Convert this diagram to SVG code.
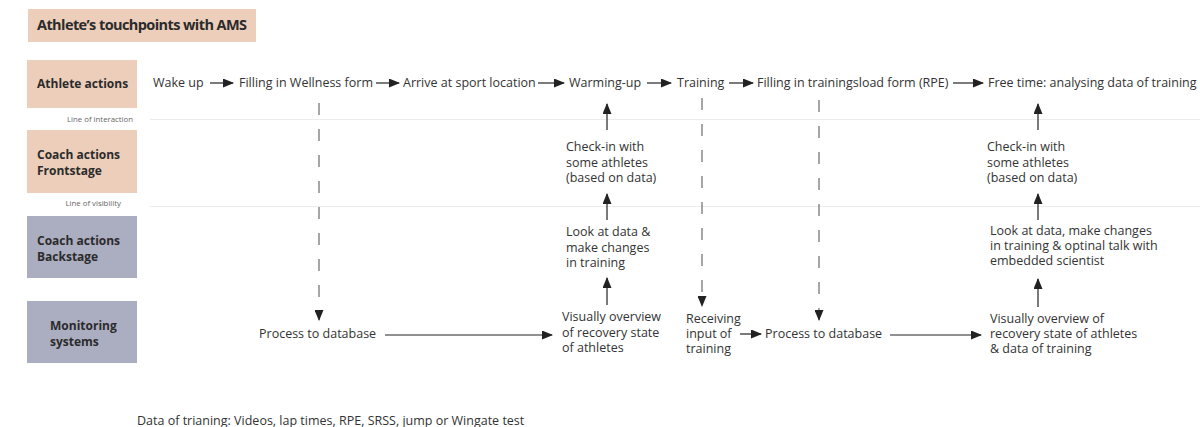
<svg xmlns="http://www.w3.org/2000/svg" width="1200" height="427" viewBox="0 0 1200 427">
  <style>
    .t { font-family: "Open Sans", "Liberation Sans", sans-serif; font-size: 12.5px; fill: #333; }
    .lbl { font-family: "Open Sans", "Liberation Sans", sans-serif; font-size: 12px; font-weight: bold; fill: #2b2b2b; }
    .small { font-family: "Open Sans", "Liberation Sans", sans-serif; font-size: 7.8px; fill: #666; }
    .peach { fill: #ecceba; }
    .slate { fill: #abadc1; }
    .sep { stroke: #ececec; stroke-width: 1; }
    .arr { stroke: #222; stroke-width: 1.2; fill: none; marker-end: url(#head); }
    .dash { stroke: #777; stroke-width: 1.3; fill: none; stroke-dasharray: 12 14; marker-end: url(#head); }
  </style>
  <defs>
    <marker id="head" markerWidth="11" markerHeight="9" refX="10" refY="4.5" orient="auto" markerUnits="userSpaceOnUse">
      <path d="M0,0 L11,4.5 L0,9 Z" fill="#222"/>
    </marker>
  </defs>
  <rect width="1200" height="427" fill="#fff"/>

  <!-- title -->
  <g id="title">
    <rect class="peach" x="28" y="9" width="228" height="33"/>
    <text class="lbl" x="37" y="30" style="font-size:14.5px" textLength="210" lengthAdjust="spacing">Athlete’s touchpoints with AMS</text>
  </g>

  <!-- swimlane headers -->
  <g id="lane-athlete">
    <rect class="peach" x="27" y="60" width="110" height="48"/>
    <text class="lbl" x="37" y="88">Athlete actions</text>
  </g>
  <g id="lane-frontstage">
    <rect class="peach" x="27" y="130" width="110" height="63"/>
    <text class="lbl" x="37" y="159">Coach actions</text>
    <text class="lbl" x="37" y="175">Frontstage</text>
  </g>
  <g id="lane-backstage">
    <rect class="slate" x="27" y="216" width="110" height="62"/>
    <text class="lbl" x="37" y="245">Coach actions</text>
    <text class="lbl" x="37" y="261">Backstage</text>
  </g>
  <g id="lane-monitoring">
    <rect class="slate" x="27" y="301" width="110" height="62"/>
    <text class="lbl" x="50" y="330">Monitoring</text>
    <text class="lbl" x="50" y="346">systems</text>
  </g>

  <!-- lane separators -->
  <g id="separators">
    <line class="sep" x1="150" y1="119.5" x2="1200" y2="119.5"/>
    <text class="small" x="133" y="122" text-anchor="end">Line of interaction</text>
    <line class="sep" x1="150" y1="206.5" x2="1200" y2="206.5"/>
    <text class="small" x="121" y="206" text-anchor="end">Line of visibility</text>
  </g>

  <!-- athlete actions -->
  <g id="wake-up"><text class="t" x="153" y="87">Wake up</text></g>
  <g id="wellness-form"><text class="t" x="239" y="87">Filling in Wellness form</text></g>
  <g id="arrive"><text class="t" x="403" y="87">Arrive at sport location</text></g>
  <g id="warming-up"><text class="t" x="569" y="87">Warming-up</text></g>
  <g id="training"><text class="t" x="677" y="87">Training</text></g>
  <g id="rpe-form"><text class="t" x="757" y="87">Filling in trainingsload form (RPE)</text></g>
  <g id="free-time"><text class="t" x="988" y="87">Free time: analysing data of training</text></g>

  <!-- coach frontstage -->
  <g id="checkin-1">
    <text class="t" x="566" y="151">Check-in with</text>
    <text class="t" x="566" y="167">some athletes</text>
    <text class="t" x="566" y="182">(based on data)</text>
  </g>
  <g id="checkin-2">
    <text class="t" x="987" y="151">Check-in with</text>
    <text class="t" x="987" y="167">some athletes</text>
    <text class="t" x="987" y="182">(based on data)</text>
  </g>

  <!-- coach backstage -->
  <g id="look-1">
    <text class="t" x="566" y="236">Look at data &amp;</text>
    <text class="t" x="566" y="252">make changes</text>
    <text class="t" x="566" y="267">in training</text>
  </g>
  <g id="look-2">
    <text class="t" x="990" y="235">Look at data, make changes</text>
    <text class="t" x="990" y="250">in training &amp; optinal talk with</text>
    <text class="t" x="990" y="265">embedded scientist</text>
  </g>

  <!-- monitoring systems -->
  <g id="db-1"><text class="t" x="259" y="338">Process to database</text></g>
  <g id="overview-1">
    <text class="t" x="562" y="321">Visually overview</text>
    <text class="t" x="562" y="337">of recovery state</text>
    <text class="t" x="562" y="352">of athletes</text>
  </g>
  <g id="receiving">
    <text class="t" x="686" y="323">Receiving</text>
    <text class="t" x="686" y="338">input of</text>
    <text class="t" x="686" y="353">training</text>
  </g>
  <g id="db-2"><text class="t" x="765" y="338">Process to database</text></g>
  <g id="overview-2">
    <text class="t" x="990" y="323">Visually overview of</text>
    <text class="t" x="990" y="338">recovery state of athletes</text>
    <text class="t" x="990" y="353">&amp; data of training</text>
  </g>

  <!-- footnote -->
  <g id="footnote"><text class="t" x="137" y="425">Data of trianing: Videos, lap times, RPE, SRSS, jump or Wingate test</text></g>

  <!-- connectors -->
  <g id="connectors">
    <line class="arr" x1="210" y1="83" x2="233" y2="83"/>
    <line class="arr" x1="376" y1="83" x2="399" y2="83"/>
    <line class="arr" x1="538" y1="83" x2="564" y2="83"/>
    <line class="arr" x1="647" y1="83" x2="671" y2="83"/>
    <line class="arr" x1="729" y1="83" x2="753" y2="83"/>
    <line class="arr" x1="953" y1="83" x2="983" y2="83"/>

    <line class="arr" x1="607" y1="130" x2="607" y2="104"/>
    <line class="arr" x1="607" y1="220" x2="607" y2="194"/>
    <line class="arr" x1="607" y1="305" x2="607" y2="278"/>
    <line class="arr" x1="1038" y1="130" x2="1038" y2="104"/>
    <line class="arr" x1="1038" y1="220" x2="1038" y2="194"/>
    <line class="arr" x1="1038" y1="307" x2="1038" y2="279"/>

    <line class="arr" x1="385" y1="335" x2="552" y2="335"/>
    <line class="arr" x1="740" y1="334" x2="761" y2="334"/>
    <line class="arr" x1="890" y1="335" x2="981" y2="335"/>

    <line class="dash" x1="319" y1="103" x2="319" y2="320"/>
    <line class="dash" x1="702" y1="98" x2="702" y2="306"/>
    <line class="dash" x1="819" y1="100" x2="819" y2="320"/>
  </g>
</svg>
